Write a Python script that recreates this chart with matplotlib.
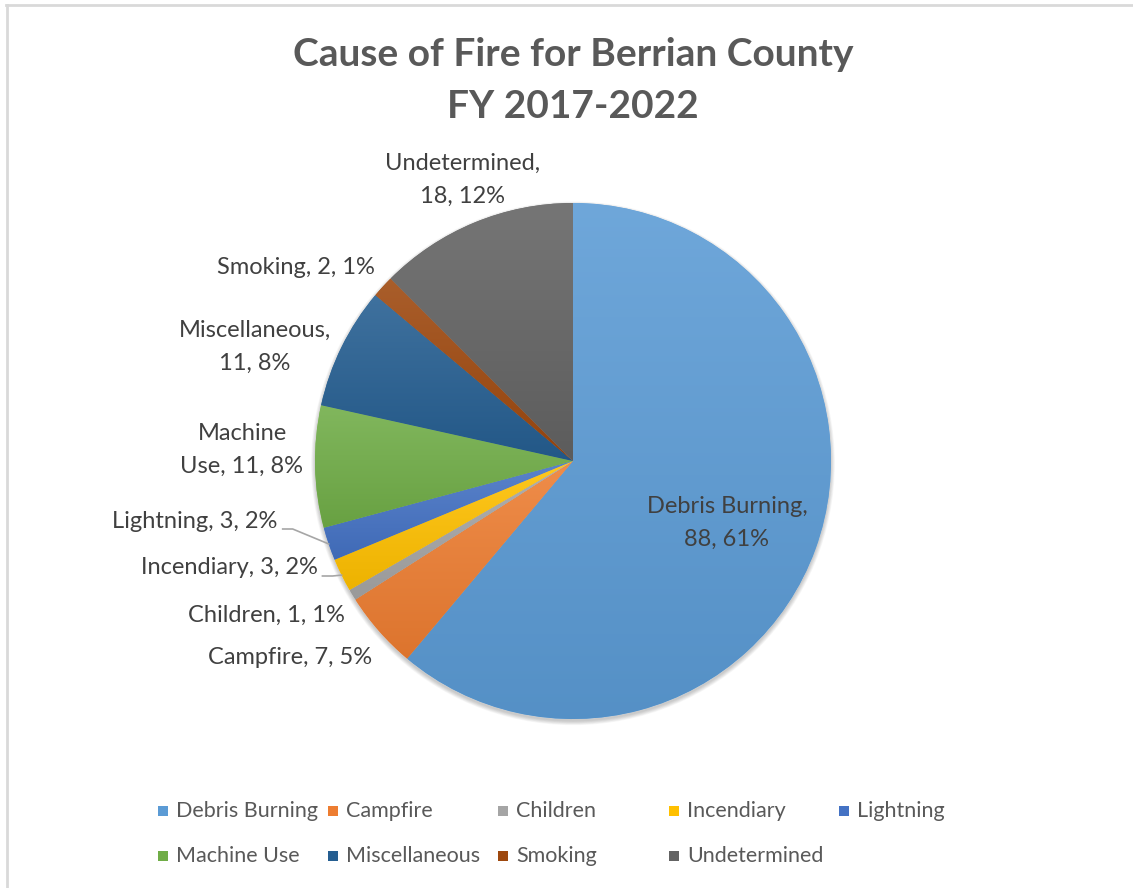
import numpy as np
import matplotlib
matplotlib.use("Agg")
import matplotlib.pyplot as plt
from matplotlib.colors import to_rgb
from matplotlib.patches import Circle, Rectangle
from matplotlib.lines import Line2D

plt.rcParams['font.family'] = ['Lato', 'DejaVu Sans']

causes = ['Debris Burning', 'Campfire', 'Children', 'Incendiary', 'Lightning',
          'Machine Use', 'Miscellaneous', 'Smoking', 'Undetermined']
fires = [88, 7, 1, 3, 3, 11, 11, 2, 18]
colors = ['#5B9BD5', '#ED7D31', '#A5A5A5', '#FFC000', '#4472C4',
          '#70AD47', '#255E91', '#9E480E', '#636363']

W, H = 1133, 888
CX, CY, R = 573, 461, 258   # pie centre and radius in pixels

# label text (line break) and centre position in pixels
label_text = {
    'Debris Burning': 'Debris Burning,\n{v}, {p}%',
    'Campfire': 'Campfire, {v}, {p}%',
    'Children': 'Children, {v}, {p}%',
    'Incendiary': 'Incendiary, {v}, {p}%',
    'Lightning': 'Lightning, {v}, {p}%',
    'Machine Use': 'Machine\nUse, {v}, {p}%',
    'Miscellaneous': 'Miscellaneous,\n{v}, {p}%',
    'Smoking': 'Smoking, {v}, {p}%',
    'Undetermined': 'Undetermined,\n{v}, {p}%',
}
label_pos = {
    'Debris Burning': (727, 523),
    'Campfire': (290, 658),
    'Children': (266, 615),
    'Incendiary': (229, 568),
    'Lightning': (195, 521),
    'Machine Use': (242, 450),
    'Miscellaneous': (255, 347),
    'Smoking': (296, 268),
    'Undetermined': (463, 180),
}
leaders = ['Lightning', 'Incendiary']


def px(x, y):
    return (x - CX) / R, (CY - y) / R


def mix(c, other, t):
    c = np.array(to_rgb(c))
    return tuple(c * (1 - t) + np.array(other) * t)


fig = plt.figure(figsize=(W / 100, H / 100), dpi=100)

# chart border (top and left edges visible)
fig.add_artist(Line2D([6 / W, 1], [1 - 5 / H, 1 - 5 / H], color='#d9d9d9', lw=2))
fig.add_artist(Line2D([7 / W, 7 / W], [0, 1 - 5 / H], color='#d9d9d9', lw=2))

fig.text(CX / W, 1 - 54 / H, 'Cause of Fire for Berrian County', ha='center', va='center',
         fontsize=28, fontweight='bold', color='#595959')
fig.text(CX / W, 1 - 106 / H, 'FY 2017-2022', ha='center', va='center',
         fontsize=28, fontweight='bold', color='#595959')

ax = fig.add_axes([0, 0, 1, 1])
ax.set_aspect('equal')
ax.axis('off')

# soft drop shadow under the pie
for i in range(7):
    ax.add_patch(Circle((0, -0.009), 1 + 0.0025 * i, color='black',
                        alpha=0.03, lw=0, zorder=0))
ax.add_patch(Circle((0, 0), 1, color='white', lw=0, zorder=0.5))

wedges, _ = ax.pie(fires, colors=colors, startangle=90, counterclock=False,
                   radius=1, wedgeprops=dict(linewidth=0))

# vertical gradient fill on every slice
for w, c in zip(wedges, colors):
    w.set_zorder(1)
    v = w.get_path().vertices
    x0, x1 = v[:, 0].min(), v[:, 0].max()
    y0, y1 = v[:, 1].min(), v[:, 1].max()
    top = np.array(mix(c, (1, 1, 1), 0.12))
    bot = np.array(mix(c, (0, 0, 0), 0.07))
    t = np.linspace(0, 1, 256)[:, None]
    grad = (top * (1 - t) + bot * t)[:, None, :]
    im = ax.imshow(grad, extent=[x0, x1, y0, y1], origin='upper', aspect='auto',
                   interpolation='bilinear', zorder=2)
    im.set_clip_path(w)
ax.set_xlim(-CX / R, (W - CX) / R)
ax.set_ylim(-(H - CY) / R, CY / R)

total = sum(fires)
texts = {}
for name, v in zip(causes, fires):
    p = round(100 * v / total)
    x, y = px(*label_pos[name])
    texts[name] = ax.text(x, y, label_text[name].format(v=v, p=p), ha='center',
                          va='center', fontsize=17, color='#404040',
                          linespacing=1.7, zorder=5)

# leader lines from small-slice labels to the slice edge
fig.canvas.draw()
renderer = fig.canvas.get_renderer()
cum = np.cumsum([0] + fires)
for name in leaders:
    i = causes.index(name)
    mid = (cum[i] + cum[i + 1]) / 2 / total
    ang = np.deg2rad(90 - 360 * mid)
    ex, ey = np.cos(ang), np.sin(ang)
    bb = texts[name].get_window_extent(renderer)
    sx = bb.x1 + 5
    sy = label_pos[name][1] + 8
    x0, y0 = px(sx, 0)[0], px(0, sy)[1]
    x1 = x0 + 10 / R
    ax.plot([x0, x1, ex], [y0, y0, ey], color='#a6a6a6', lw=1.2, zorder=4)

# legend laid out on a fixed grid
col_x = [176, 346, 516, 687, 857]
row_y = [811, 856]
for k, (name, c) in enumerate(zip(causes, colors)):
    r, col = divmod(k, 5)
    tx, ty = col_x[col], row_y[r]
    fig.add_artist(Rectangle(((tx - 18) / W, 1 - (ty + 5) / H), 10 / W, 10 / H,
                             color=c, lw=0))
    fig.text(tx / W, 1 - ty / H, name, ha='left', va='center', fontsize=15.5,
             color='#595959')

fig.savefig('out.png', dpi=100)
